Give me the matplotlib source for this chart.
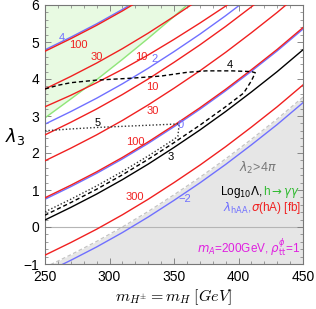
import matplotlib
matplotlib.use('Agg')
import matplotlib.pyplot as plt
from matplotlib.offsetbox import TextArea, HPacker, AnnotationBbox

# ---------------- data ----------------
M = [250, 270, 290, 310, 330, 350, 370, 390, 410, 430, 450]

blue_4    = [4.79, 5.13, 5.49, 5.88, 6.30]
red_100a  = [4.75, 5.09, 5.45, 5.84, 6.26]
red_30a   = [3.73, 4.07, 4.43, 4.82, 5.24, 5.69, 6.16]
red_10a   = [3.25, 3.56, 3.90, 4.26, 4.65, 5.07, 5.51, 5.97, 6.45]
green_m   = [250, 270, 290, 310, 330, 350, 370]
green_l   = [2.95, 3.46, 3.98, 4.53, 5.10, 5.69, 6.30]
blue_2    = [2.78, 3.12, 3.48, 3.87, 4.29, 4.74, 5.21, 5.71, 6.24]
red_10b   = [2.49, 2.83, 3.19, 3.58, 4.00, 4.45, 4.92, 5.42, 5.95, 6.50]
red_30b   = [1.79, 2.13, 2.49, 2.88, 3.30, 3.75, 4.22, 4.72, 5.25, 5.80, 6.39]
red_100b  = [0.79, 1.13, 1.49, 1.88, 2.30, 2.75, 3.22, 3.72, 4.25, 4.80, 5.39]
blue_0    = [0.75, 1.09, 1.45, 1.84, 2.26, 2.71, 3.18, 3.68, 4.21, 4.76, 5.35]
black_3   = [0.19, 0.53, 0.89, 1.28, 1.70, 2.15, 2.62, 3.12, 3.65, 4.20, 4.79]
red_300   = [-0.76, -0.42, -0.06, 0.33, 0.75, 1.20, 1.67, 2.17, 2.70, 3.25, 3.84]
blue_m2   = [-1.24, -0.90, -0.54, -0.15, 0.27, 0.72, 1.19, 1.69, 2.22, 2.77, 3.36]
bound_l2  = [-1.09, -0.75, -0.39, 0.00, 0.42, 0.87, 1.34, 1.84, 2.37, 2.92, 3.51]

dash4_m = [250, 260, 270, 290, 316, 340, 360, 375, 395, 410, 413, 410, 404, 390, 370, 350, 330, 310, 290, 270, 250]
dash4_l = [3.73, 3.83, 3.90, 3.97, 4.02, 4.08, 4.18, 4.22, 4.22, 4.20, 4.17, 3.95, 3.62, 3.25, 2.75, 2.28, 1.83, 1.41, 1.02, 0.66, 0.32]
dot5_m  = [250, 270, 290, 310, 330, 350, 354, 353, 350, 330, 310, 290, 270, 250]
dot5_l  = [2.60, 2.65, 2.69, 2.72, 2.75, 2.78, 2.79, 2.45, 2.37, 1.92, 1.50, 1.11, 0.75, 0.41]

# contour labels: (text, m, lambda3, colour key)
contour_labels = [
    ("4", 263, 5.10, 'b'), ("100", 275.6, 4.92, 'r'), ("30", 290, 4.60, 'r'),
    ("10", 325, 4.60, 'r'), ("2", 334.6, 4.53, 'b'), ("10", 333, 3.79, 'r'),
    ("30", 333.4, 3.14, 'r'), ("100", 319.8, 2.31, 'r'), ("300", 319.8, 0.80, 'r'),
    ("\u22122", 358.5, 0.75, 'b'), ("3", 347.7, 1.90, 'k'), ("4", 393.4, 4.38, 'k'),
    ("5", 291, 2.82, 'k'), ("0", 355, 2.77, 'b'),
]

xticks = [250, 300, 350, 400, 450]
yticks = [-1, 0, 1, 2, 3, 4, 5, 6]

RED = '#f02020'
BLUE = '#7070ff'
GREEN = '#90e67a'
cmap = {'r': RED, 'b': BLUE, 'k': 'black'}

plt.rcParams['font.family'] = ['Liberation Sans', 'DejaVu Sans']

fig = plt.figure(figsize=(3.16, 3.09), dpi=100)
ax = fig.add_axes([45/316, 45/309, 258/316, 259/309])

# shaded regions
ax.fill_between(M, -2, bound_l2, color='#e6e6e6', lw=0, zorder=0)
ax.plot(M, bound_l2, color='#c4c4c4', lw=0.9, ls=(0, (3, 2)), zorder=1)
ax.fill_between(green_m, green_l, 7, color='#e8fae2', lw=0, zorder=0)
ax.axhline(0, color='#b5b5b5', lw=0.8, zorder=1)

lw = 1.0
ax.plot(green_m, green_l, color=GREEN, lw=lw, zorder=2)
ax.plot(M[:len(blue_4)], blue_4, color=BLUE, lw=lw, zorder=2)
ax.plot(M[:len(blue_2)], blue_2, color=BLUE, lw=lw, zorder=2)
ax.plot(M, blue_0, color=BLUE, lw=lw, zorder=2)
ax.plot(M, blue_m2, color=BLUE, lw=lw, zorder=2)
ax.plot(M[:len(red_100a)], red_100a, color=RED, lw=lw, zorder=3)
ax.plot(M[:len(red_30a)], red_30a, color=RED, lw=lw, zorder=3)
ax.plot(M[:len(red_10a)], red_10a, color=RED, lw=lw, zorder=3)
ax.plot(M[:len(red_10b)], red_10b, color=RED, lw=lw, zorder=3)
ax.plot(M, red_30b, color=RED, lw=lw, zorder=3)
ax.plot(M, red_100b, color=RED, lw=lw, zorder=3)
ax.plot(M, red_300, color=RED, lw=lw, zorder=3)
ax.plot(M, black_3, color='black', lw=lw, zorder=3)
ax.plot(dash4_m, dash4_l, color='black', lw=lw, ls=(0, (3, 2)), zorder=3)
ax.plot(dot5_m, dot5_l, color='#333333', lw=lw, ls=(0, (1, 1.5)), zorder=3)

for t, x, y, c in contour_labels:
    ax.text(x, y, t, color=cmap[c], fontsize=8, ha='center', va='center', zorder=4)

ax.set_xlim(250, 450)
ax.set_ylim(-1, 6)
ax.set_xticks(xticks)
ax.set_yticks(yticks)
ax.set_xticks(range(250, 451, 10), minor=True)
ax.set_yticks([i / 5 for i in range(-5, 31)], minor=True)
ax.tick_params(which='both', direction='in', top=True, right=True, colors='#777777',
               labelcolor='black', labelsize=10)
ax.tick_params(which='major', length=4, width=0.6, pad=4)
ax.tick_params(which='minor', length=2, width=0.5)
for s in ax.spines.values():
    s.set_color('#777777')
    s.set_linewidth(0.8)

ax.set_ylabel(r'$\lambda_3$', rotation=0, fontsize=13)
ax.yaxis.set_label_coords(-0.115, 0.45)
ax.set_xlabel(r'$m_{H^{\pm}}=m_H\;[GeV]$', fontsize=11.5, math_fontfamily='cm', va='center')
ax.xaxis.set_label_coords(0.5, -0.127)

# annotations
ax.text(415, 1.59, r'$\lambda_2$>4$\pi$', color='#777777', fontsize=9, ha='center', va='center')


def packed(parts, xy, fs=8.5):
    kids = [TextArea(t, textprops=dict(color=c, fontsize=fs)) for t, c in parts]
    box = HPacker(children=kids, align='baseline', pad=0, sep=0)
    ab = AnnotationBbox(box, xy, xycoords='data', box_alignment=(1, 0.5), frameon=False, pad=0)
    ax.add_artist(ab)


packed([(r'Log$_{10}\Lambda$,', 'black'), (r'h$\rightarrow\gamma\gamma$', '#33bb33')], (448, 0.95))
packed([(r'$\lambda_{\mathrm{hAA}}$,', BLUE), (r'$\sigma$(hA) [fb]', RED)], (449, 0.50))
packed([(r'$m_A$=200GeV, $\rho^{\phi}_{\mathrm{tt}}$=1', '#e020e0')], (448, -0.58))

fig.savefig('out.png', dpi=100)
